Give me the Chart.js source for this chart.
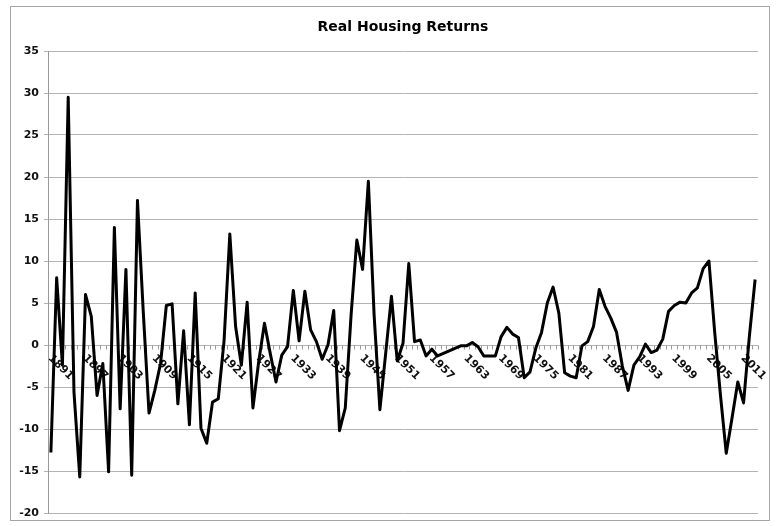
<!DOCTYPE html>
<html>
<head>
<meta charset="utf-8">
<title>Real Housing Returns</title>
<script src="https://cdn.jsdelivr.net/npm/chart.js@4.4.1/dist/chart.umd.min.js"></script>
<style>
  html, body { margin: 0; padding: 0; background: #fff; }
  #wrap { width: 780px; height: 526px; }
</style>
</head>
<body>
<div id="wrap"><canvas id="housingChart" width="780" height="526"></canvas></div>
<script>
// Annual real housing returns (%), 1891 - 2013
const firstYear = 1891;
const returns = [
    -12.8, 8.0, -2.4, 29.5, -5.6, -15.7, 6.0, 3.4, -6.0, -2.2,      // 1891-1900
    -15.1, 14.0, -7.6, 9.0, -15.5, 17.2, 4.0, -8.1, -5.4, -2.2,     // 1901-1910
    4.7, 4.9, -7.0, 1.7, -9.5, 6.2, -9.9, -11.7, -6.8, -6.4,        // 1911-1920
    0.5, 13.2, 2.2, -2.4, 5.1, -7.5, -2.0, 2.6, -1.0, -4.4,         // 1921-1930
    -1.2, -0.2, 6.5, 0.5, 6.4, 1.8, 0.4, -1.7, 0.0, 4.1,            // 1931-1940
    -10.2, -7.5, 3.5, 12.5, 9.0, 19.5, 3.5, -7.7, -1.0, 5.8,        // 1941-1950
    -1.9, 0.2, 9.7, 0.4, 0.6, -1.3, -0.5, -1.3, -1.0, -0.7,         // 1951-1960
    -0.4, -0.1, -0.1, 0.3, -0.2, -1.3, -1.3, -1.3, 1.0, 2.1,        // 1961-1970
    1.3, 0.9, -3.9, -3.2, -0.4, 1.5, 5.0, 6.9, 3.8, -3.3,           // 1971-1980
    -3.7, -3.9, -0.1, 0.4, 2.2, 6.6, 4.6, 3.2, 1.5, -2.5,           // 1981-1990
    -5.4, -2.4, -1.4, 0.1, -0.9, -0.6, 0.7, 4.0, 4.7, 5.1,          // 1991-2000
    5.0, 6.2, 6.8, 9.1, 10.0, 1.5, -6.0, -12.9, -8.7, -4.4,         // 2001-2010
    -6.9, 1.0, 7.8                                                  // 2011-2013
];
const years = returns.map((_, i) => String(firstYear + i));
const labelYears = ["1891", "1897", "1903", "1909", "1915", "1921", "1927", "1933", "1939",
    "1945", "1951", "1957", "1963", "1969", "1975", "1981", "1987", "1993", "1999", "2005", "2011"];

const chartTitle = "Real Housing Returns";
const yMin = -20;
const yMax = 35;
const yStep = 5;

const axisFont = "'DejaVu Sans', sans-serif";

// Excel-style frame, title over the plot, category tick marks and slanted year labels
const excelAxis = {
    id: "excelAxis",
    beforeDraw(chart) {
        const ctx = chart.ctx;
        const area = chart.chartArea;
        ctx.save();
        ctx.fillStyle = "#fff";
        ctx.fillRect(0, 0, chart.width, chart.height);
        ctx.strokeStyle = "#a6a6a6";
        ctx.lineWidth = 1;
        ctx.strokeRect(10.5, 6.5, 759, 514);
        // title centred on the plot area, like Excel does
        ctx.fillStyle = "#000";
        ctx.font = "bold 14px " + axisFont;
        ctx.textAlign = "center";
        ctx.textBaseline = "middle";
        ctx.fillText(chartTitle, (area.left + area.right) / 2, 27);
        ctx.restore();
    },
    beforeDatasetsDraw(chart) {
        const ctx = chart.ctx;
        const x = chart.scales.x;
        const y0 = Math.round(chart.scales.y.getPixelForValue(0)) + 0.5;
        const step = x.getPixelForValue(1) - x.getPixelForValue(0);
        ctx.save();
        // small tick marks between the categories
        ctx.strokeStyle = "#999";
        ctx.lineWidth = 1;
        ctx.beginPath();
        for (let i = 0; i <= years.length; i++) {
            const px = Math.round(x.getPixelForValue(i) - step / 2) + 0.5;
            ctx.moveTo(px, y0);
            ctx.lineTo(px, y0 + 4);
        }
        ctx.stroke();
        // year labels, slanted down to the right
        ctx.fillStyle = "#111";
        ctx.font = "bold 11px " + axisFont;
        ctx.textAlign = "left";
        ctx.textBaseline = "middle";
        labelYears.forEach(label => {
            const px = x.getPixelForValue(years.indexOf(label));
            ctx.save();
            ctx.translate(px - 1, y0 + 11);
            ctx.rotate(Math.PI / 4);
            ctx.fillText(label, 0, 0);
            ctx.restore();
        });
        ctx.restore();
    }
};

const ctx = document.getElementById("housingChart").getContext("2d");
new Chart(ctx, {
    type: "line",
    data: {
        labels: years,
        datasets: [{
            label: chartTitle,
            data: returns,
            borderColor: "#000",
            borderWidth: 3,
            borderJoinStyle: "round",
            pointRadius: 0,
            tension: 0,
            fill: false
        }]
    },
    options: {
        responsive: false,
        animation: false,
        devicePixelRatio: 1,
        layout: { padding: { top: 51, left: 10, right: 22, bottom: 13 } },
        plugins: {
            legend: { display: false },
            tooltip: { enabled: false },
            title: { display: false }
        },
        scales: {
            x: {
                type: "category",
                display: false,
                offset: true
            },
            y: {
                min: yMin,
                max: yMax,
                afterFit(scale) { scale.width = 38; },
                ticks: {
                    stepSize: yStep,
                    color: "#111",
                    padding: 5,
                    font: { family: axisFont, size: 11, weight: "bold" }
                },
                grid: {
                    color: "#b4b4b4",
                    lineWidth: 1,
                    tickLength: 4
                },
                border: { color: "#999" }
            }
        }
    },
    plugins: [excelAxis]
});
</script>
</body>
</html>
